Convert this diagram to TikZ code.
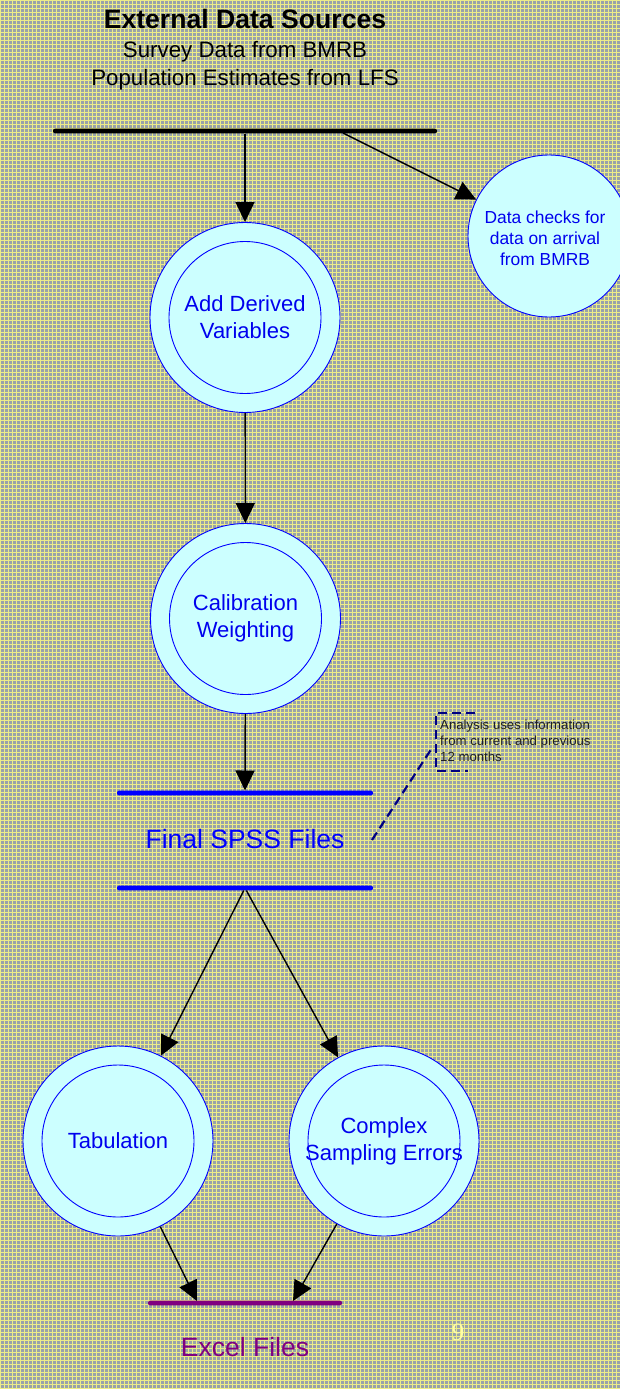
\documentclass[tikz,border=0pt]{standalone}
\usepackage{fontspec}
\setmainfont{Liberation Sans}
\newfontfamily\numfont{Liberation Serif}
\usetikzlibrary{arrows.meta,shapes.geometric}

\definecolor{bgbase}{RGB}{152,162,170}
\definecolor{bgline}{RGB}{236,236,136}
\definecolor{bubble}{RGB}{204,255,255}
\definecolor{ink}{RGB}{0,0,238}
\definecolor{calloutblue}{RGB}{0,0,128}
\definecolor{plum}{RGB}{128,0,128}
\definecolor{pagenum}{RGB}{255,255,165}

\begin{document}
\begin{tikzpicture}[x=1pt,y=-1pt,
  outerring/.style={circle, draw=blue, line width=0.9pt, fill=bubble,
    minimum size=190pt, inner sep=0pt},
  innerring/.style={circle, draw=blue, line width=0.9pt,
    minimum size=152pt, inner sep=0pt},
  proclabel/.style={text=ink, align=center, inner sep=0pt,
    font=\fontsize{22}{27}\selectfont},
  flow/.style={draw=black, line width=1.4pt,
    -{Triangle[length=20pt,width=19pt]}},
  bar/.style={rectangle, minimum height=4.6pt, inner sep=0pt,
    rounded corners=2pt},
  store/.style={inner sep=0pt, font=\fontsize{26.5}{30}\selectfont},
  heading/.style={anchor=base, inner sep=0pt},
  callout/.style={draw=calloutblue, line width=2.2pt,
    dash pattern=on 9pt off 5pt}]

% page and backdrop
\useasboundingbox (0,0) rectangle (620,1389);
\clip (0,0) rectangle (620,1389);
\fill[bgbase] (0,0) rectangle (620,1389);
\draw[bgline, line width=1pt, step=4pt, xshift=0.5pt, yshift=-0.5pt]
  (0,0) grid (620,1389);

% heading
\node[heading, font=\bfseries\fontsize{26.6}{30}\selectfont]
  (title) at (245,29) {External Data Sources};
\node[heading, font=\fontsize{22.3}{27}\selectfont]
  (src1) at (245,58) {Survey Data from BMRB};
\node[heading, font=\fontsize{22.3}{27}\selectfont]
  (src2) at (245,85) {Population Estimates from LFS};

% incoming data bar
\node[bar, fill=black, minimum width=384pt] (inbar) at (245,131) {};
\coordinate (tap) at (343,133);

% arrival checks
\node[circle, draw=blue, line width=0.9pt, fill=bubble, minimum size=162pt,
  inner sep=0pt] (checks) at (549,236) {};
\node[text=ink, align=center, inner sep=0pt,
  font=\fontsize{17.4}{21}\selectfont] (checkstext) at (545,238)
  {Data checks for\\data on arrival\\from BMRB};

% derived variables
\node[outerring] (derived) at (245,317.5) {};
\node[innerring] (derivedcore) at (derived) {};
\node[proclabel] (derivedtext) at (derived) {Add Derived\\Variables};

% calibration weighting
\node[outerring] (calib) at (245.5,618.5) {};
\node[innerring] (calibcore) at (calib) {};
\node[proclabel] (calibtext) at (calib) {Calibration\\Weighting};

% final SPSS store
\node[bar, fill=blue, minimum width=256pt] (spsstop) at (245,793) {};
\node[bar, fill=blue, minimum width=256pt] (spssbot) at (245,888) {};
\node[store, text=blue, anchor=base] (spsstext) at (245,848) {Final SPSS Files};

% annotation on the SPSS files
\node[anchor=north west, align=left, inner sep=0pt, text=black!88,
  font=\fontsize{13.2}{16}\selectfont] (note) at (440,720)
  {Analysis uses information\\from current and previous\\12 months};
\draw[callout] (475,713) -- (436,713) -- (436,771) -- (468,771);
\coordinate (leadfrom) at (372,840);
\coordinate (leadto) at (432,748);
\draw[callout] (leadfrom) -- (leadto);

% outputs
\node[outerring] (tab) at (118,1141) {};
\node[innerring] (tabcore) at (tab) {};
\node[proclabel] (tabtext) at (tab) {Tabulation};

\node[outerring] (cse) at (384,1141) {};
\node[innerring] (csecore) at (cse) {};
\node[proclabel] (csetext) at (cse) {Complex\\Sampling Errors};

% Excel store
\node[bar, fill=plum, minimum width=194pt] (xlbar) at (245,1303) {};
\coordinate (xlleft) at (197,1301);
\coordinate (xlright) at (293,1301);
\node[store, text=plum, anchor=base] (xltext) at (245,1356) {Excel Files};

% page number
\node[text=pagenum, inner sep=0pt, font=\numfont\fontsize{25}{28}\selectfont]
  (pageno) at (458,1332) {9};

% flows
\draw[flow] (inbar) -- (derived);
\draw[flow] (tap) -- (checks);
\draw[flow] (derived) -- (calib);
\draw[flow] (calib) -- (spsstop);
\draw[flow] (spssbot) -- (tab);
\draw[flow] (spssbot) -- (cse);
\draw[flow] (tab) -- (xlleft);
\draw[flow] (cse) -- (xlright);
\end{tikzpicture}
\end{document}
